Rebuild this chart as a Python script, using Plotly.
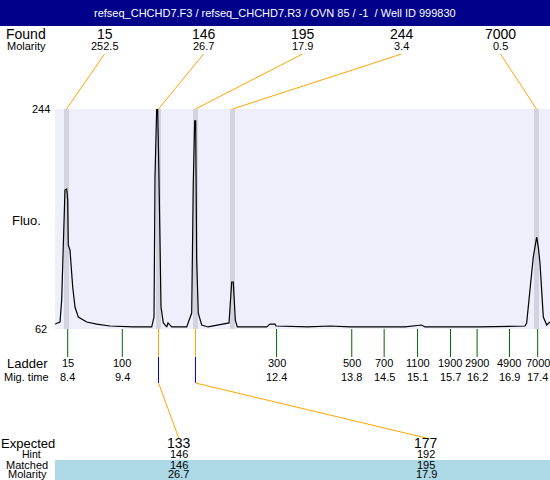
import plotly.graph_objects as go

title_text = "refseq_CHCHD7.F3 / refseq_CHCHD7.R3 / OVN 85 / -1 &nbsp;/ Well ID 999830"

# Electropherogram (migration time, fluorescence)
mig_time = [8.157, 8.253, 8.285, 8.316, 8.348, 8.381, 8.400, 8.411, 8.444, 8.496, 8.540, 8.603,
            8.764, 8.955, 9.210, 9.650, 10.009, 10.053, 10.072, 10.104, 10.123, 10.148, 10.187,
            10.231, 10.296, 10.321, 10.392, 10.679, 10.775, 10.805, 10.832, 10.851, 10.870,
            10.901, 10.966, 11.087, 11.489, 11.541, 11.571, 11.610, 11.648, 12.211, 12.274,
            12.370, 12.389, 13.002, 13.423, 13.806, 14.859, 15.179, 15.242, 16.295, 17.157,
            17.189, 17.253, 17.316, 17.381, 17.412, 17.444, 17.508, 17.573, 17.636]
fluo = [66.1, 67.8, 86.0, 133.1, 177.0, 177.8, 168.7, 131.5, 127.4, 96.7, 80.2, 71.9,
        67.8, 66.1, 64.5, 63.7, 63.7, 71.9, 187.7, 244.0, 244.0, 187.7, 80.2,
        67.0, 63.7, 67.0, 63.7, 63.7, 75.2, 182.8, 234.1, 234.1, 119.1,
        75.2, 65.3, 63.7, 67.0, 100.9, 100.9, 69.4, 63.7, 63.7, 66.1,
        66.1, 64.5, 63.7, 64.5, 63.7, 63.7, 65.3, 63.7, 63.7, 64.5,
        67.0, 96.7, 121.6, 138.1, 129.8, 116.6, 71.9, 65.3, 67.8]

# Found peaks
found_size = ["15", "146", "195", "244", "7000"]
found_molarity = ["252.5", "26.7", "17.9", "3.4", "0.5"]
found_time = [8.377, 10.139, 10.847, 11.556, 17.378]

# Ladder
ladder_size = ["15", "100", "300", "500", "700", "1100", "1900", "2900", "4900", "7000"]
ladder_time = [8.40, 9.446, 12.40, 13.84, 14.46, 15.10, 15.73, 16.24, 16.86, 17.40]
ladder_time_label = ["8.4", "9.4", "12.4", "13.8", "14.5", "15.1", "15.7", "16.2", "16.9", "17.4"]

# Expected products
expected_size = ["133", "177"]
expected_hint = ["146", "192"]
matched_size = ["146", "195"]
matched_molarity = ["26.7", "17.9"]
matched_peak = [1, 2]  # index into found peaks

y_min, y_max = 62, 244
x_min, x_max = 8.157, 17.636

FONT = "Liberation Sans, Arial, sans-serif"
W, H = 550, 480
L, T, B = 55, 109, 151
PH = H - T - B
PW = W - L

def py(p):  # pixel row -> paper y
    return (H - B - p) / PH

def px(p):  # pixel column -> paper x
    return (p - L) / PW

def slot_x(i, n):  # evenly spaced label slot, in data units
    return x_min + (i + 0.5) / n * (x_max - x_min)

fig = go.Figure()
fig.add_trace(go.Scatter(x=mig_time, y=fluo, mode="lines",
                         line=dict(color="black", width=1.2), hoverinfo="skip"))

shapes = []
ann = []

def text(x, y, s, size, xref="paper", color="black"):
    ann.append(dict(x=x, y=y, xref=xref, yref="paper", text=s, showarrow=False,
                    xanchor="center", yanchor="middle", borderpad=0,
                    font=dict(family=FONT, size=size, color=color)))

# title bar
shapes.append(dict(type="rect", xref="paper", yref="paper", x0=px(0), x1=1, y0=py(26), y1=py(0),
                   fillcolor="#00008B", line=dict(width=0), layer="below"))
text(px(275), py(13), title_text, 11, color="white")

# peak bands
bw = 0.048
for t in found_time:
    shapes.append(dict(type="rect", xref="x", yref="paper", x0=t - bw, x1=t + bw, y0=0, y1=1,
                       fillcolor="#D3D3E0", line=dict(width=0), layer="below"))

# found header
text(px(26), py(34), "Found", 14)
text(px(26), py(46), "Molarity", 11)
n = len(found_size)
for i in range(n):
    sx = slot_x(i, n)
    text(sx, py(34), found_size[i], 14, xref="x")
    text(sx, py(46), found_molarity[i], 11, xref="x")
    shapes.append(dict(type="line", xref="x", yref="paper", x0=sx, y0=py(54),
                       x1=found_time[i], y1=1, line=dict(color="orange", width=1)))

# y labels
text(px(41), 1, str(y_max), 11)
text(px(41), 0, str(y_min), 11)
text(px(26), py(220), "Fluo.", 13)

# ladder
text(px(27), py(363), "Ladder", 13)
text(px(26), py(377), "Mig. time", 11)
for t, s, m in zip(ladder_time, ladder_size, ladder_time_label):
    shapes.append(dict(type="line", xref="x", yref="paper", x0=t, x1=t, y0=0, y1=py(357),
                       line=dict(color="#006600", width=1)))
    text(t, py(363), s, 11, xref="x")
    text(t, py(377), m, 11, xref="x")

# expected/matched
shapes.append(dict(type="rect", xref="paper", yref="paper", x0=0, x1=1, y0=py(480), y1=py(460),
                   fillcolor="#ADD8E6", line=dict(width=0), layer="below"))
text(px(27.5), py(443), "Expected", 13)
text(px(31), py(454), "Hint", 10.5)
text(px(27), py(464.5), "Matched", 11)
text(px(27), py(474), "Molarity", 11)
m = len(expected_size)
for i in range(m):
    sx = slot_x(i, m)
    t = found_time[matched_peak[i]]
    shapes.append(dict(type="line", xref="x", yref="paper", x0=t, x1=t, y0=0, y1=py(357),
                       line=dict(color="orange", width=1)))
    shapes.append(dict(type="line", xref="x", yref="paper", x0=t, x1=t, y0=py(357), y1=py(383),
                       line=dict(color="blue", width=1)))
    shapes.append(dict(type="line", xref="x", yref="paper", x0=t, x1=sx, y0=py(383), y1=py(438),
                       line=dict(color="orange", width=1)))
    text(sx, py(443), expected_size[i], 14, xref="x")
    text(sx, py(454), expected_hint[i], 11, xref="x")
    text(sx, py(464.5), matched_size[i], 11, xref="x")
    text(sx, py(474), matched_molarity[i], 11, xref="x")

fig.update_layout(
    width=W, height=H, margin=dict(l=L, r=0, t=T, b=B, pad=0),
    paper_bgcolor="white", plot_bgcolor="#EFEFFC",
    showlegend=False, shapes=shapes, annotations=ann,
    xaxis=dict(range=[x_min, x_max], visible=False, fixedrange=True),
    yaxis=dict(range=[y_min, y_max], showticklabels=False, showgrid=False, zeroline=False,
               ticks="", fixedrange=True),
    font=dict(family=FONT),
)
fig.write_html("out.html", config={"displayModeBar": False},
               post_script="document.body.style.margin='0';document.body.style.overflow='hidden';")
